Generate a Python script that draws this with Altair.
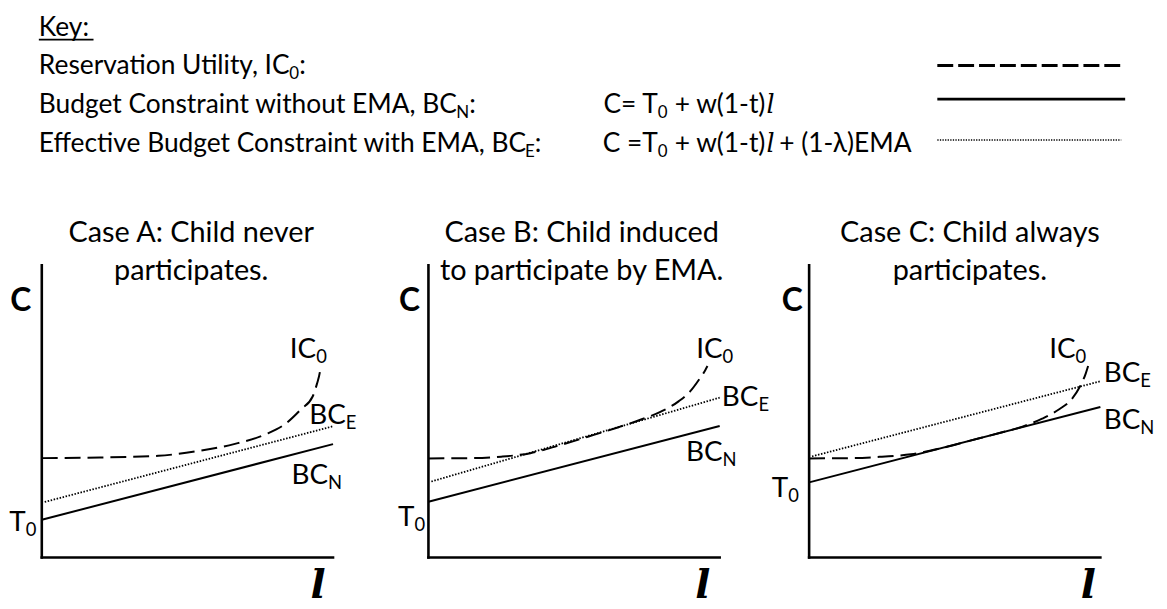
import altair as alt
import pandas as pd

FONT = "Lato"
SERIF = "DejaVu Serif"

# ---------------- key (legend) content ----------------
key_header = "Key:"
key_labels = ["Reservation Utility, IC", "Budget Constraint without EMA, BC",
              "Effective Budget Constraint with EMA, BC"]
key_subs = ["0", "N", "E"]
key_rows = [1, 2, 3]
formula_rows = [2, 3]
formula_head = ["C= T", "C =T"]
formula_mid = ["+ w(1-t)", "+ w(1-t)"]
formula_tail = ["+ (1-\u03bb)EMA"]

# ---------------- panel content (l from 0 to 10, C from 0 to 10) ----------------
title_top = ["Case A: Child never", "Case B: Child induced", "Case C: Child always"]
title_bottom = ["participates.", "to participate by EMA.", "participates."]

bcn_l = [0.0, 10.0]
bcn_c = [[1.29, 3.88], [1.91, 4.50], [2.57, 5.15]]
bce_l = [0.1, 10.0]
bce_c = [[1.90, 4.49], [2.60, 5.47], [3.46, 6.03]]
ic_l = [
    [0, 2, 4, 5.4, 6.6, 7.7, 8.4, 8.9, 9.3, 9.45, 9.55, 9.58],
    [0, 1.5, 2.5, 3.5, 4.5, 5.5, 6.5, 7.3, 8.0, 8.6, 9.0, 9.3, 9.5, 9.58],
    [0, 1.5, 2.5, 3.5, 4.5, 5.5, 6.5, 7.3, 8.0, 8.6, 9.0, 9.3, 9.5, 9.58],
]
ic_c = [
    [3.40, 3.42, 3.48, 3.65, 3.88, 4.22, 4.60, 5.07, 5.51, 5.95, 6.35, 6.55],
    [3.39, 3.40, 3.45, 3.57, 3.84, 4.14, 4.45, 4.72, 5.00, 5.35, 5.70, 6.10, 6.40, 6.55],
    [3.39, 3.40, 3.45, 3.53, 3.73, 3.99, 4.25, 4.47, 4.75, 5.08, 5.40, 5.85, 6.30, 6.55],
]
axis_max = 10

# annotation anchors in data units of each panel
ic_lab_x = [9.42, 10.10, 9.15]
ic_lab_y = [6.84, 6.84, 6.84]
bce_lab_x = [10.44, 11.33, 11.37]
bce_lab_y = [4.56, 5.17, 5.99]
bcn_lab_x = [9.83, 10.10, 11.37]
bcn_lab_y = [2.52, 3.30, 4.39]
t0_lab_x = [-0.55, -0.48, -0.72]
t0_lab_y = [0.92, 1.09, 2.07]
c_lab_x = [-0.72, -0.65, -0.58]
c_lab_y = 8.45
l_lab_x = [9.49, 9.42, 9.59]
l_lab_y = -1.39
title_x = [5.13, 5.26, 5.52]
title_y = [10.78, 9.49]
sub_drop = 0.17

# ---------------- layout ----------------
UX, UY = 29.3, 29.4
PANEL_W, PANEL_H = 386, 405
axis_offset_px = [34, 37, 34]
Y_TOP = 12.381
Y_BOT = Y_TOP - PANEL_H / UY
KEY_W, KEY_H = 1158, 187
KEY_Y = [-0.6667, 4.1282]

# key anchors (x in percent of key width, y in row units)
key_text_x = 2.68
key_junction = [24.44, 38.95, 44.91]
key_colon = [25.30, 40.07, 45.77]
key_header_y = 0.013
key_underline = [2.68, 7.43, 0.103]
formula_j1 = 56.46
formula_j2 = 65.80
formula_tail_x = 67.01
sample_x = [80.74, 97.06, 96.72]
sample_y = [0.77, 1.64, 2.69]

MAIN, SUB = 26.5, 17
TITLE, PMAIN, PSUB = 29, 28, 18.5


def txt(df, xs, ys, size, align="left", weight="normal", style="normal", font=FONT):
    return alt.Chart(df).mark_text(
        align=align, baseline="alphabetic", font=font, fontSize=size,
        fontWeight=weight, fontStyle=style, color="black"
    ).encode(
        x=alt.X("x:Q", scale=xs, axis=None),
        y=alt.Y("y:Q", scale=ys, axis=None),
        text="t:N",
    )


def curve(l, c, xs, ys, width, dash=None):
    df = pd.DataFrame({"l": l, "c": c, "i": list(range(len(l)))})
    kw = dict(color="black", strokeWidth=width, interpolate="monotone")
    if dash:
        kw["strokeDash"] = dash
    return alt.Chart(df).mark_line(**kw).encode(
        x=alt.X("l:Q", scale=xs, axis=None),
        y=alt.Y("c:Q", scale=ys, axis=None),
        order="i:Q",
    )


def panel(i):
    x0 = -axis_offset_px[i] / UX
    xs = alt.Scale(domain=[x0, x0 + PANEL_W / UX], nice=False, zero=False)
    ys = alt.Scale(domain=[Y_BOT, Y_TOP], nice=False, zero=False)

    axes_df = pd.DataFrame({"x": [0, 0], "y": [0, 0], "x2": [0, axis_max], "y2": [axis_max, 0]})
    axes = alt.Chart(axes_df).mark_rule(color="black", strokeWidth=2.6, strokeCap="square").encode(
        x=alt.X("x:Q", scale=xs, axis=None), y=alt.Y("y:Q", scale=ys, axis=None),
        x2="x2:Q", y2="y2:Q")

    bcn = curve(bcn_l, bcn_c[i], xs, ys, 2.0)
    bce = curve(bce_l, bce_c[i], xs, ys, 1.8, [1.5, 1.6])
    ic = curve(ic_l[i], ic_c[i], xs, ys, 2.0, [16, 7])

    titles = txt(pd.DataFrame({"x": [title_x[i]] * 2, "y": title_y,
                               "t": [title_top[i], title_bottom[i]]}), xs, ys, TITLE, "center")

    mains = txt(pd.DataFrame({
        "x": [ic_lab_x[i], bce_lab_x[i], bcn_lab_x[i], t0_lab_x[i]],
        "y": [ic_lab_y[i], bce_lab_y[i], bcn_lab_y[i], t0_lab_y[i]],
        "t": ["IC", "BC", "BC", "T"]}), xs, ys, PMAIN, "right")
    subs = txt(pd.DataFrame({
        "x": [ic_lab_x[i], bce_lab_x[i], bcn_lab_x[i], t0_lab_x[i]],
        "y": [ic_lab_y[i] - sub_drop, bce_lab_y[i] - sub_drop,
              bcn_lab_y[i] - sub_drop, t0_lab_y[i] - sub_drop],
        "t": ["0", "E", "N", "0"]}), xs, ys, PSUB, "left")
    clab = txt(pd.DataFrame({"x": [c_lab_x[i]], "y": [c_lab_y], "t": ["C"]}),
               xs, ys, 32, "center", weight="bold")
    llab = txt(pd.DataFrame({"x": [l_lab_x[i]], "y": [l_lab_y], "t": ["l"]}),
               xs, ys, 40, "center", weight="bold", style="italic", font=SERIF)

    return alt.layer(axes, bcn, bce, ic, titles, mains, subs, clab, llab).properties(
        width=PANEL_W, height=PANEL_H)


def key_chart():
    xs = alt.Scale(domain=[0, 100], nice=False, zero=False)
    ys = alt.Scale(domain=KEY_Y, reverse=True, nice=False, zero=False)

    header = txt(pd.DataFrame({"x": [key_text_x], "y": [key_header_y], "t": [key_header]}),
                 xs, ys, MAIN, "left")
    underline = alt.Chart(pd.DataFrame({"x": [key_underline[0]], "x2": [key_underline[1]],
                                        "y": [key_underline[2]]})).mark_rule(
        color="black", strokeWidth=1.8).encode(
        x=alt.X("x:Q", scale=xs, axis=None), x2="x2:Q", y=alt.Y("y:Q", scale=ys, axis=None))

    mains = txt(pd.DataFrame({"x": [key_text_x] * 3, "y": key_rows, "t": key_labels}),
                xs, ys, MAIN, "left")
    subs = txt(pd.DataFrame({"x": key_junction, "y": [r + 0.13 for r in key_rows], "t": key_subs}),
               xs, ys, SUB, "left")
    colons = txt(pd.DataFrame({"x": key_colon, "y": key_rows, "t": [":"] * 3}),
                 xs, ys, MAIN, "left")

    f_head = txt(pd.DataFrame({"x": [formula_j1] * 2, "y": formula_rows, "t": formula_head}),
                 xs, ys, MAIN, "right")
    f_sub = txt(pd.DataFrame({"x": [formula_j1] * 2, "y": [r + 0.13 for r in formula_rows],
                              "t": ["0", "0"]}), xs, ys, SUB, "left")
    f_mid = txt(pd.DataFrame({"x": [formula_j2] * 2, "y": formula_rows, "t": formula_mid}),
                xs, ys, MAIN, "right")
    f_l = txt(pd.DataFrame({"x": [formula_j2 + 0.1] * 2, "y": formula_rows, "t": ["l", "l"]}),
              xs, ys, MAIN - 1, "left", style="italic", font=SERIF)
    f_tail = txt(pd.DataFrame({"x": [formula_tail_x], "y": [formula_rows[1]], "t": formula_tail}),
                 xs, ys, MAIN, "left")

    def sample(j, dash, width):
        kw = dict(color="black", strokeWidth=width)
        if dash:
            kw["strokeDash"] = dash
        df = pd.DataFrame({"x": [sample_x[0]], "x2": [sample_x[1] if j < 2 else sample_x[2]],
                           "y": [sample_y[j]]})
        return alt.Chart(df).mark_rule(**kw).encode(
            x=alt.X("x:Q", scale=xs, axis=None), x2="x2:Q", y=alt.Y("y:Q", scale=ys, axis=None))

    lines = [sample(0, [16, 5], 2.8), sample(1, None, 2.8), sample(2, [1.3, 1.3], 1.6)]

    return alt.layer(header, underline, mains, subs, colons, f_head, f_sub, f_mid, f_l, f_tail,
                     *lines).properties(width=KEY_W, height=KEY_H)


row = alt.hconcat(panel(0), panel(1), panel(2), spacing=0, bounds="flush")
chart = alt.vconcat(key_chart(), row, spacing=0, bounds="flush").properties(
    padding=0).configure_view(strokeWidth=0)

chart.save("out.html", embed_options={"renderer": "svg", "actions": False})
